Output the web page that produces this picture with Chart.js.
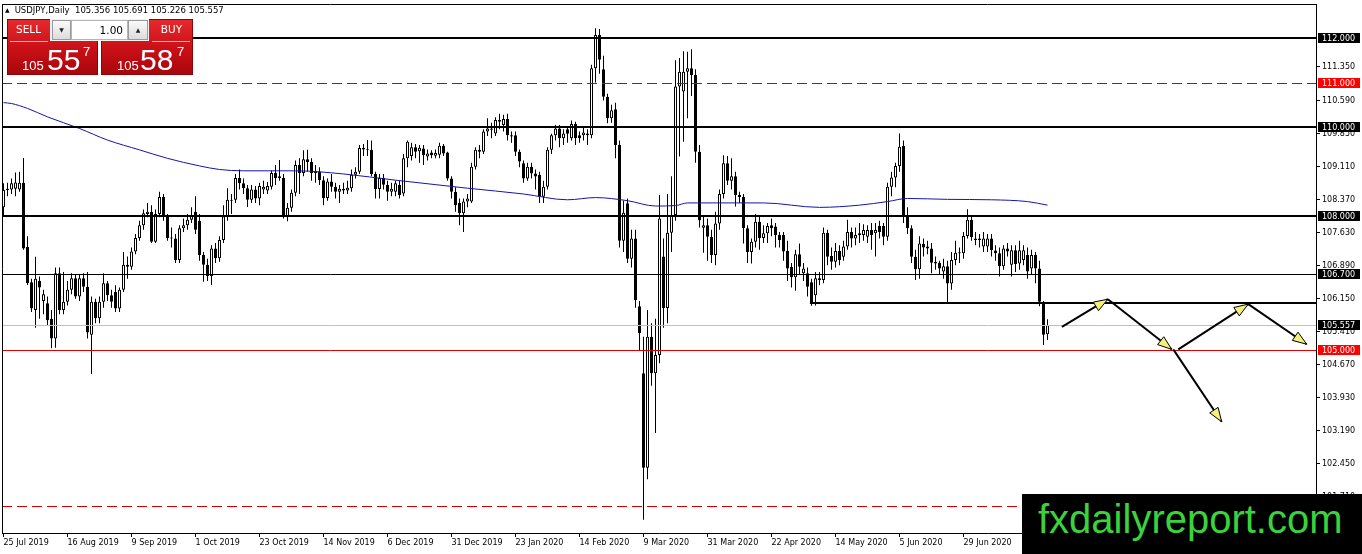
<!DOCTYPE html>
<html><head><meta charset="utf-8">
<script src="https://cdn.jsdelivr.net/npm/chart.js@4.4.0/dist/chart.umd.min.js"></script>
<style>
html,body{margin:0;padding:0;background:#fff;}
#wrap{position:relative;width:1362px;height:554px;overflow:hidden;background:#fff;}
#c{position:absolute;left:0;top:0;}
.abs{position:absolute;}
#hdr{position:absolute;left:5px;top:5px;height:10px;line-height:10px;font-family:"DejaVu Sans";font-size:8.5px;color:#000;white-space:pre;}
#hdr .tri{font-size:6px;vertical-align:top;margin-right:5px;}
.red{position:absolute;background:linear-gradient(#e52a2e,#c80f16 55%,#a8070d);border:1px solid #8c0308;box-sizing:border-box;}
.lbl{position:absolute;color:#fff;font-family:"DejaVu Sans";font-size:10.5px;text-align:center;line-height:21px;}
.sep{position:absolute;height:1px;background:#f6b4b4;}
.btn{position:absolute;background:linear-gradient(#fafafa,#dcdcdc);border:1px solid #9a9a9a;box-sizing:border-box;font-size:6px;text-align:center;line-height:18px;color:#222;font-family:"DejaVu Sans";}
.inp{position:absolute;background:#fff;border:1px solid #b5b5b5;box-sizing:border-box;font-family:"DejaVu Sans";font-size:10.5px;text-align:right;padding-right:4px;line-height:18px;color:#000;}
.px{position:absolute;color:#fff;font-family:"Liberation Sans";white-space:nowrap;}
#wm{position:absolute;left:1022px;top:494px;width:340px;height:60px;background:#000;}
#wm span{position:absolute;left:16px;top:5px;font-family:"Liberation Sans";font-size:40px;line-height:40px;color:#3cd23c;white-space:nowrap;}
</style></head><body>
<div id="wrap">
<canvas id="c" width="1362" height="554"></canvas>
<div id="hdr"><span class="tri">▲</span>USDJPY,Daily  105.356 105.691 105.226 105.557</div>
<div class="red" style="left:7px;top:19px;width:91px;height:56px"></div>
<div class="red" style="left:101px;top:19px;width:92px;height:56px"></div>
<div class="abs" style="left:50px;top:19px;width:99px;height:22px;background:#f2f2f2"></div>
<div class="btn" style="left:52px;top:20px;width:19px;height:20px">▼</div>
<div class="inp" style="left:71px;top:20px;width:57px;height:20px">1.00</div>
<div class="btn" style="left:128px;top:20px;width:20px;height:20px">▲</div>
<div class="lbl" style="left:7px;top:19px;width:43px;height:21px">SELL</div>
<div class="lbl" style="left:150px;top:19px;width:43px;height:21px">BUY</div>
<div class="sep" style="left:10px;top:41px;width:38px"></div>
<div class="sep" style="left:152px;top:41px;width:38px"></div>
<div class="px" style="left:22px;top:59px;font-size:13px;line-height:13px">105</div>
<div class="px" style="left:47px;top:45px;font-size:30px;line-height:30px">55</div>
<div class="px" style="left:83px;top:45px;font-size:13px;line-height:13px">7</div>
<div class="px" style="left:117px;top:59px;font-size:13px;line-height:13px">105</div>
<div class="px" style="left:140px;top:45px;font-size:30px;line-height:30px">58</div>
<div class="px" style="left:177px;top:45px;font-size:13px;line-height:13px">7</div>
<div id="wm"><span>fxdailyreport.com</span></div>
</div>
<script>
// ---- data (USDJPY daily, bar index 0 = 25 Jul 2019) ----
const opens = [
108.20,108.59,108.60,108.62,108.60,108.75,107.31,106.52,105.90,106.55,
106.10,106.05,105.70,105.26,106.72,105.90,106.08,106.35,106.61,106.20,
106.61,106.42,105.34,106.08,105.71,106.08,106.50,106.23,106.30,105.93,
106.35,106.87,106.87,107.21,107.51,107.80,108.05,108.10,107.43,108.05,
108.43,107.99,107.52,107.50,107.02,107.73,107.80,107.92,108.10,107.90,
107.13,106.91,106.66,107.28,107.06,107.47,108.00,108.37,108.37,108.86,
108.74,108.63,108.37,108.60,108.40,108.60,108.58,108.66,108.97,108.90,
108.86,107.99,108.19,108.53,109.15,108.97,109.28,109.22,108.97,109.00,
108.81,108.41,108.78,108.66,108.55,108.62,108.58,108.63,108.93,109.00,
109.53,109.50,109.49,108.95,108.61,108.86,108.71,108.55,108.55,108.70,
108.51,109.30,109.35,109.55,109.46,109.52,109.34,109.43,109.36,109.38,
109.58,109.43,108.85,108.55,108.30,108.07,108.33,108.33,109.11,109.49,
109.45,109.90,109.97,109.86,110.16,110.05,110.18,109.82,109.82,109.45,
109.19,108.85,109.11,108.96,108.93,108.44,108.66,109.49,109.82,109.97,
109.75,109.95,109.75,110.07,109.82,109.82,109.86,109.82,111.32,112.07,
111.30,110.68,110.20,110.40,109.60,107.45,108.29,107.05,107.50,105.98,
104.48,102.36,105.30,104.48,104.89,107.10,105.94,107.63,108.03,110.91,
110.80,111.24,111.32,111.17,109.45,107.74,107.80,107.54,107.13,107.84,
108.50,109.19,108.80,108.90,108.48,108.43,107.73,107.20,107.43,107.88,
107.51,107.62,107.80,107.77,107.58,107.58,107.22,106.87,106.63,107.15,
106.72,106.72,106.52,106.23,106.57,106.57,107.63,107.11,106.98,107.22,
107.09,107.32,107.65,107.50,107.58,107.58,107.54,107.69,107.62,107.78,
107.78,107.54,108.66,108.87,109.13,109.58,108.00,107.73,107.09,106.81,
107.38,107.28,107.28,106.98,106.96,106.76,106.88,106.49,107.02,107.18,
107.17,107.56,107.92,107.50,107.50,107.32,107.32,107.50,107.23,107.17,
106.88,107.28,106.91,107.24,106.94,107.02,107.13,106.83,107.13,106.83,
106.05,105.356];
const highs = [
108.74,108.75,108.85,108.98,109.00,109.31,107.55,106.60,107.09,106.65,
106.35,106.20,105.90,106.85,106.85,106.75,106.55,106.72,106.70,106.70,
106.72,106.75,106.20,106.15,106.20,106.72,106.55,106.35,106.45,106.40,
107.20,107.10,107.30,107.60,107.90,108.15,108.30,108.25,108.15,108.55,
108.50,108.05,107.75,107.60,107.80,107.95,108.05,108.20,108.45,108.05,
107.20,107.05,107.35,107.40,107.55,108.25,108.63,108.50,108.95,109.05,
108.85,108.70,108.70,108.68,108.75,108.80,108.77,109.03,109.15,109.26,
108.95,108.30,108.60,109.25,109.30,109.48,109.49,109.30,109.15,109.10,
108.90,108.85,108.95,108.75,108.70,108.75,108.80,109.05,109.10,109.60,
109.62,109.71,109.70,109.00,108.95,108.95,108.80,108.75,108.80,108.80,
109.40,109.70,109.65,109.62,109.60,109.60,109.50,109.48,109.50,109.65,
109.62,109.45,108.90,108.65,108.40,108.40,108.50,109.20,109.55,109.60,
109.95,110.20,110.10,110.22,110.30,110.28,110.30,109.90,109.90,109.50,
109.25,109.20,109.20,109.05,109.00,108.80,109.55,109.85,110.05,110.05,
109.95,110.00,110.15,110.12,109.90,110.00,109.95,111.40,112.22,112.20,
111.60,110.75,110.50,110.55,109.70,108.35,108.40,107.70,107.70,106.10,
105.30,105.90,105.60,105.70,108.48,107.50,108.50,108.90,111.50,111.55,
111.70,111.69,111.75,111.30,109.60,108.00,107.95,107.70,108.10,108.60,
109.37,109.35,109.30,109.00,108.55,108.50,107.80,107.50,108.05,108.00,
107.80,107.85,107.95,107.85,107.65,107.65,107.45,106.95,107.25,107.39,
106.95,106.85,106.60,106.75,106.75,107.75,107.70,107.30,107.40,107.35,
107.45,107.92,107.75,107.75,107.85,107.82,107.80,107.85,107.85,107.90,
107.85,108.75,109.00,109.20,109.86,109.70,108.20,107.80,107.25,107.55,
107.50,107.45,107.40,107.10,107.00,107.05,107.00,107.20,107.45,107.30,
107.65,108.16,108.00,107.65,107.60,107.65,107.60,107.60,107.35,107.30,
107.35,107.40,107.35,107.35,107.45,107.35,107.30,107.25,107.20,107.00,
106.10,105.691];
const lows = [
107.99,108.45,108.50,108.45,108.55,107.25,106.46,105.85,105.50,105.70,
105.80,105.55,105.04,105.05,105.80,105.80,106.00,106.25,106.15,106.10,
106.30,105.26,104.46,105.60,105.60,105.95,106.10,105.95,105.85,105.85,
106.30,106.60,106.80,107.15,107.45,107.70,107.98,107.40,107.40,107.98,
107.90,107.45,107.30,106.95,106.95,107.65,107.70,107.85,107.60,107.00,
106.53,106.55,106.46,106.95,106.98,107.40,107.90,108.05,108.30,108.60,
108.50,108.21,108.30,108.30,108.25,108.50,108.50,108.60,108.70,108.80,
107.95,107.89,108.10,108.45,108.50,108.90,109.00,108.80,108.75,108.70,
108.25,108.35,108.55,108.40,108.30,108.50,108.50,108.55,108.85,108.95,
109.35,109.35,108.90,108.40,108.40,108.60,108.35,108.45,108.45,108.40,
108.45,109.10,109.25,109.30,109.20,109.15,109.25,109.30,109.30,109.30,
109.35,108.80,108.40,108.10,107.80,107.65,108.20,108.30,109.05,109.30,
109.40,109.80,109.75,109.80,109.95,109.90,109.70,109.65,109.35,109.10,
108.75,108.80,108.85,108.60,108.30,108.30,108.60,109.40,109.70,109.55,
109.60,109.65,109.70,109.60,109.65,109.70,109.60,109.75,111.00,111.20,
110.60,110.09,110.10,109.30,107.30,107.20,106.95,106.85,105.95,105.00,
101.19,102.10,104.20,103.14,104.70,105.50,105.60,107.20,107.90,109.34,
109.67,110.20,110.70,109.20,107.75,107.18,107.00,106.95,106.90,107.70,
108.40,108.70,108.60,108.22,108.30,107.39,106.95,106.94,107.30,107.25,
107.40,107.40,107.55,107.30,107.30,107.00,106.55,106.40,106.33,106.70,
106.55,106.20,105.99,106.00,106.45,106.50,106.90,106.80,106.85,106.90,
107.00,107.25,107.30,107.35,107.40,107.45,107.40,107.25,107.10,107.50,
107.35,107.45,108.45,108.65,109.00,107.85,107.60,106.95,106.57,106.60,
107.10,107.15,106.72,106.80,106.70,106.60,106.05,106.35,106.90,106.95,
107.05,107.50,107.45,107.35,107.30,107.20,107.20,107.10,107.00,106.65,
106.80,107.10,106.65,106.75,106.80,106.90,106.60,106.70,106.50,105.98,
105.11,105.226];
const closes = [
108.59,108.62,108.74,108.76,108.75,107.28,106.50,105.93,106.60,106.40,
106.25,105.67,105.26,106.72,105.90,106.08,106.35,106.61,106.20,106.61,
106.42,105.39,106.08,105.71,106.08,106.50,106.23,106.08,105.93,106.35,
106.91,106.91,107.21,107.51,107.80,108.07,108.10,107.43,108.05,108.43,
107.99,107.51,107.50,107.02,107.73,107.80,107.92,108.03,107.70,107.13,
106.91,106.66,107.28,107.06,107.47,108.00,108.37,108.35,108.86,108.74,
108.63,108.37,108.60,108.40,108.68,108.66,108.68,108.97,108.86,108.86,
107.99,108.19,108.53,109.15,108.97,109.28,109.22,108.97,109.02,108.81,
108.41,108.78,108.66,108.55,108.62,108.58,108.64,108.93,109.00,109.53,
109.50,109.48,108.95,108.61,108.86,108.71,108.55,108.62,108.74,108.48,
109.30,109.67,109.55,109.45,109.54,109.37,109.41,109.37,109.42,109.58,
109.41,108.85,108.55,108.25,108.07,108.33,108.40,109.11,109.49,109.45,
109.90,109.97,109.94,110.16,110.12,110.18,109.82,109.79,109.45,109.23,
108.85,109.11,108.96,108.89,108.44,108.66,109.49,109.82,109.97,109.75,
109.86,109.85,110.07,109.75,109.75,109.88,109.82,111.32,112.07,111.51,
110.68,110.20,110.38,109.60,107.45,108.08,107.05,107.50,106.12,105.38,
102.36,105.30,104.48,104.89,107.95,105.94,107.63,108.03,110.91,111.24,
111.24,111.32,111.17,109.45,107.91,107.80,107.54,107.13,107.84,108.50,
109.19,108.80,108.90,108.48,108.43,107.73,107.20,107.43,107.88,107.51,
107.62,107.78,107.73,107.58,107.47,107.21,106.83,106.63,107.15,106.87,
106.83,106.42,106.05,106.61,106.61,107.63,107.09,106.98,107.22,107.02,
107.32,107.65,107.50,107.58,107.62,107.69,107.69,107.58,107.69,107.65,
107.54,108.66,108.87,109.13,109.56,108.00,107.73,107.09,106.81,107.39,
107.30,107.32,106.96,106.94,106.83,106.88,106.49,107.02,107.18,107.17,
107.56,107.92,107.53,107.47,107.47,107.50,107.50,107.24,107.17,106.88,
107.28,107.21,107.24,106.93,107.24,107.24,106.76,107.13,106.83,106.08,
105.34,105.557];

// moving average read at sample bars (bar index / value)
const maIdx = [0,2,6,11,19,26,34,41,49,54,60,73,85,98,116,130,141,148,156,163,168,171,190,204,214,221,226,236,247,256,261];
const maVal = [110.55,110.53,110.42,110.23,109.97,109.71,109.49,109.30,109.13,109.05,109.02,109.02,108.95,108.81,108.63,108.50,108.37,108.42,108.35,108.23,108.24,108.30,108.30,108.20,108.25,108.33,108.40,108.38,108.37,108.33,108.25];

// x-axis date labels every 16 bars
const tickIdx = [0,16,32,48,64,80,96,112,128,144,160,176,192,208,224,240];
const tickLabels = ["25 Jul 2019","16 Aug 2019","9 Sep 2019","1 Oct 2019","23 Oct 2019","14 Nov 2019","6 Dec 2019","31 Dec 2019","23 Jan 2020","14 Feb 2020","9 Mar 2020","31 Mar 2020","22 Apr 2020","14 May 2020","5 Jun 2020","29 Jun 2020"];
// price axis ticks
const priceTicks = [111.35,110.59,109.85,109.11,108.37,107.63,106.89,106.15,105.41,104.67,103.93,103.19,102.45,101.71];

// horizontal levels
const levels = [112, 111, 110, 108, 106.7, 105.557, 105, 101.5];
const supportLevel = 106.05, supportFromBar = 201.6;
// price tags on the axis
const tagLevels = [112, 111, 110, 108, 106.7, 105.557, 105];
// forecast arrows (bar index, price)
const arrowX0 = [264.6, 276.1, 293.7, 311.2, 292.45];
const arrowY0 = [105.52, 106.14, 105.015, 106.03, 105.015];
const arrowX1 = [276.1, 292.05, 311.2, 325.8, 304.55];
const arrowY1 = [106.14, 105.015, 106.03, 105.13, 103.39];

// ---- styles ----
const levelStyle = [
 {c:'#000',w:2},{c:'#d00000',w:1,d:[10,5]},{c:'#000',w:2},{c:'#000',w:2},
 {c:'#000',w:1},{c:'#c0c0c0',w:1},{c:'#e00000',w:1},{c:'#d00000',w:1,d:[10,5]}];
const tagColor = ['#000','#ff0000','#000','#000','#000','#000','#ff0000'];

const bodyData = closes.map((c,i)=>({x:i, y:[opens[i], c]}));
const wickData = closes.map((c,i)=>({x:i, y:[lows[i], highs[i]]}));
const bodyBg = closes.map((c,i)=> c >= opens[i] ? '#ffffff' : '#000000');
const maData = maIdx.map((x,k)=>({x:x, y:maVal[k]}));

function arrowHead(ctx,x0,y0,x1,y1){
  const a=Math.atan2(y1-y0,x1-x0), L=14, W=5;
  const bx=x1-L*Math.cos(a), by=y1-L*Math.sin(a);
  const px=-Math.sin(a)*W, py=Math.cos(a)*W;
  ctx.beginPath();ctx.moveTo(x1,y1);ctx.lineTo(bx+px,by+py);ctx.lineTo(bx-px,by-py);ctx.closePath();
  ctx.fillStyle='#f4ef7a';ctx.fill();ctx.lineWidth=1;ctx.strokeStyle='#000';ctx.setLineDash([]);ctx.stroke();
}

const overlay = {
  id:'overlay',
  afterDatasetsDraw(chart){
    const {ctx, chartArea:a, scales:{x,y}} = chart;
    ctx.save();
    ctx.beginPath();ctx.rect(a.left,a.top,a.right-a.left,a.bottom-a.top);ctx.clip();
    levels.forEach((v,k)=>{
      const s=levelStyle[k]; const p=Math.round(y.getPixelForValue(v));
      const yy = s.w%2 ? p+0.5 : p;
      ctx.beginPath();ctx.setLineDash(s.d||[]);ctx.lineWidth=s.w;ctx.strokeStyle=s.c;
      ctx.moveTo(a.left,yy);ctx.lineTo(a.right,yy);ctx.stroke();
    });
    const sp=Math.round(y.getPixelForValue(supportLevel));
    ctx.beginPath();ctx.setLineDash([]);ctx.lineWidth=2;ctx.strokeStyle='#000';
    ctx.moveTo(x.getPixelForValue(supportFromBar),sp);ctx.lineTo(a.right,sp);ctx.stroke();
    for(let k=0;k<arrowX0.length;k++){
      const x0=x.getPixelForValue(arrowX0[k]), y0=y.getPixelForValue(arrowY0[k]);
      const x1=x.getPixelForValue(arrowX1[k]), y1=y.getPixelForValue(arrowY1[k]);
      ctx.beginPath();ctx.setLineDash([]);ctx.lineWidth=2;ctx.strokeStyle='#000';
      ctx.moveTo(x0,y0);ctx.lineTo(x1,y1);ctx.stroke();
      arrowHead(ctx,x0,y0,x1,y1);
    }
    ctx.restore();
  },
  afterDraw(chart){
    const {ctx, chartArea:a, scales:{y}} = chart;
    ctx.save();
    ctx.strokeStyle='#000';ctx.lineWidth=1;ctx.setLineDash([]);
    ctx.beginPath();ctx.moveTo(a.left,a.top+0.5);ctx.lineTo(a.right,a.top+0.5);
    ctx.moveTo(a.left+0.5,a.top);ctx.lineTo(a.left+0.5,a.bottom);ctx.stroke();
    ctx.font='8px "DejaVu Sans"';ctx.textBaseline='middle';ctx.textAlign='left';
    tagLevels.forEach((v,k)=>{
      const p=Math.round(y.getPixelForValue(v));
      ctx.fillStyle=tagColor[k];ctx.fillRect(a.right+2,p-5,42,10);
      ctx.fillStyle='#fff';ctx.fillText(v.toFixed(3),a.right+6,p+0.5);
    });
    ctx.restore();
  }
};

Chart.defaults.font.family='"DejaVu Sans"';
new Chart(document.getElementById('c'),{
  type:'bar',
  data:{datasets:[
    {type:'line',data:maData,borderColor:'#1414a8',borderWidth:1,pointRadius:0,cubicInterpolationMode:'monotone',order:0},
    {type:'bar',data:bodyData,backgroundColor:bodyBg,borderColor:'#000',borderWidth:1,borderSkipped:false,barThickness:3,grouped:false,inflateAmount:0,minBarLength:1,order:1},
    {type:'bar',data:wickData,backgroundColor:'#000',borderWidth:0,barThickness:1,grouped:false,inflateAmount:0,order:2}
  ]},
  options:{
    responsive:false,animation:false,devicePixelRatio:1,
    layout:{padding:{left:2,top:4,right:0,bottom:0}},
    plugins:{legend:{display:false},tooltip:{enabled:false}},
    scales:{
      x:{type:'linear',min:-0.375,max:328.125,offset:false,bounds:'data',
        afterBuildTicks:s=>{s.ticks=tickIdx.map(v=>({value:v}));},
        afterFit:s=>{s.height=21;s.paddingLeft=0;s.paddingRight=0;},
        ticks:{autoSkip:false,maxRotation:0,minRotation:0,align:'start',padding:1,color:'#000',font:{size:8},
          callback:(v,i)=>tickLabels[i]},
        grid:{display:true,drawOnChartArea:false,drawTicks:true,tickLength:4,color:'#000',offset:false},
        border:{display:true,color:'#000',width:1}},
      y:{type:'linear',position:'right',min:100.8942,max:112.7628,bounds:'data',
        afterBuildTicks:s=>{s.ticks=priceTicks.map(v=>({value:v}));},
        afterFit:s=>{s.width=46;s.paddingTop=0;s.paddingBottom=0;},
        ticks:{autoSkip:false,padding:2,color:'#000',font:{size:8},callback:v=>Number(v).toFixed(3)},
        grid:{display:true,drawOnChartArea:false,drawTicks:true,tickLength:4,color:'#000'},
        border:{display:true,color:'#000',width:1}}
    }
  },
  plugins:[overlay]
});
</script>
</body></html>
